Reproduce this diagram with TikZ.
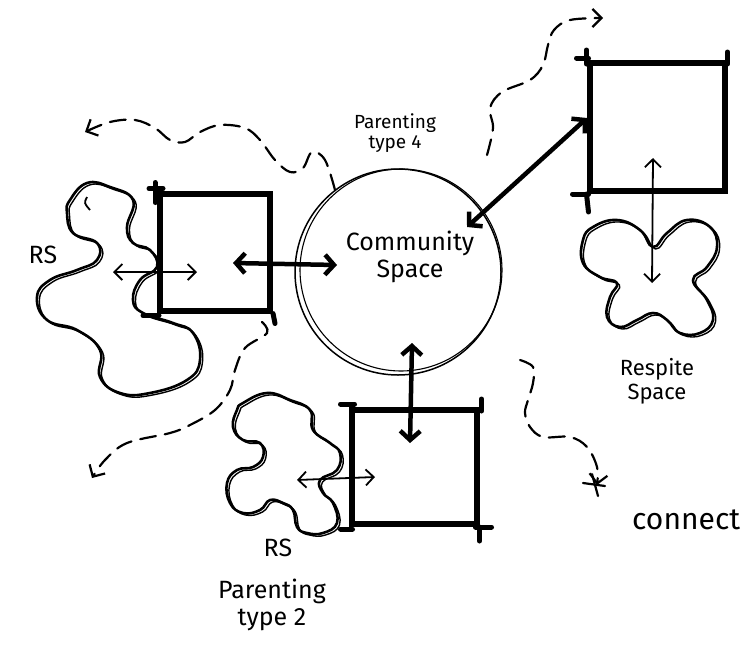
\documentclass[tikz,border=0pt]{standalone}
\usepackage{fontspec}
\setmainfont{Fira Sans}
\usetikzlibrary{arrows.meta}
\begin{document}
\begin{tikzpicture}[x=1pt,y=-1pt,
  roombox/.style={draw, line width=6pt, minimum width=#1, inner sep=0pt},
  thickarrow/.style={line width=4.5pt, {Straight Barb[length=9pt,width=20pt]}-{Straight Barb[length=9pt,width=20pt]}},
  thinarrow/.style={line width=1.8pt, {Straight Barb[length=8pt,width=16pt]}-{Straight Barb[length=8pt,width=16pt]}},
  cloudline/.style={line width=2.6pt, line join=round},
  cloudline2/.style={line width=1.4pt, line join=round},
  flowline/.style={line width=2.2pt, line cap=round, dash pattern=on 16pt off 9pt, -{Straight Barb[length=9pt,width=18pt]}},
  overshoot/.style={line width=5pt, line cap=round},
  lbl/.style 2 args={font=\fontsize{#1}{#2}\selectfont, align=center, inner sep=0pt}
]
\useasboundingbox (0,0) rectangle (743,648);
\clip (0,0) rectangle (743,648);

% community circle
\node[draw, circle, line width=1.5pt, minimum size=206pt, inner sep=0pt] (cs) at (398,272) {};
\draw[line width=1.1pt] (401,270) circle (101);

% boxes
\node[roombox=110pt, minimum height=117pt] (lbox) at (215,252) {};
\node[roombox=135pt, minimum height=128pt] (rbox) at (657,127) {};
\node[roombox=125pt, minimum height=114pt] (bbox) at (414,467) {};

% box overshoots
\draw[overshoot] (lbox.north west) ++(-8,-2) -- ++(14,0);
\draw[overshoot] (lbox.north west) ++(-2,-8) -- ++(0,20);
\draw[overshoot] (lbox.south west) ++(-14,2) -- ++(16,0);
\draw[overshoot] (lbox.south east) ++(0,0) -- ++(2,10);
\draw[overshoot] (rbox.north west) ++(-10,-2) -- ++(12,0);
\draw[overshoot] (rbox.north west) ++(0,-10) -- ++(0,14);
\draw[overshoot] (rbox.north east) ++(0,-8) -- ++(0,12);
\draw[overshoot] (rbox.south west) ++(-14,0) -- ++(16,0);
\draw[overshoot] (rbox.south west) ++(0,0) -- ++(2,18);
\draw[overshoot] (bbox.north west) ++(-8,-3) -- ++(14,0);
\draw[overshoot] (bbox.north east) ++(2,-8) -- ++(0,12);
\draw[overshoot] (bbox.south east) ++(-4,0) -- ++(16,0);
\draw[overshoot] (bbox.south east) ++(0,0) -- ++(0,14);
\draw[overshoot] (bbox.south west) ++(-8,2) -- ++(12,0);

% clouds
\foreach \dx/\dy/\st in {0/0/cloudline, 2.5/2/cloudline2}{
  \draw[\st, shift={(\dx,\dy)}] plot[smooth cycle, tension=0.75] coordinates {
    (70,200) (87,183) (110,187) (133,200) (127,227) (133,243) (150,250) (157,267)
    (140,280) (133,300) (143,313) (173,323) (193,333) (200,360) (187,380) (150,393)
    (120,393) (100,377) (100,350) (77,330) (47,320) (37,297) (50,280) (77,270)
    (97,260) (97,243) (73,233) (67,213)};
  \draw[\st, shift={(\dx,\dy)}] plot[smooth cycle, tension=0.75] coordinates {
    (593,227) (617,220) (640,230) (653,247) (667,233) (687,220) (710,227) (717,247)
    (707,267) (693,280) (707,300) (713,320) (700,333) (680,333) (667,320) (653,313)
    (637,320) (620,327) (607,317) (610,297) (617,283) (600,277) (583,263) (583,240)};
  \draw[\st, shift={(\dx,\dy)}] plot[smooth cycle, tension=0.75] coordinates {
    (243,403) (267,393) (290,400) (310,410) (313,430) (330,443) (340,453) (337,470)
    (320,480) (323,493) (333,503) (337,523) (323,533) (307,533) (297,527) (293,510)
    (283,503) (270,500) (260,510) (243,513) (230,503) (227,483) (237,470) (253,467)
    (263,457) (260,443) (243,440) (233,427) (237,410)};
}
\draw[line width=1.8pt] (87,197) .. controls (84,203) .. (90,210);

% arrow end points
\coordinate (lbin) at (233,263);
\coordinate (csw) at (337,265);
\coordinate (lcloud) at (113,272);
\coordinate (lboxin) at (197,272);
\coordinate (csne) at (467,227);
\coordinate (rbin) at (587,118);
\coordinate (rbin2) at (653,158);
\coordinate (rcloud) at (652,283);
\coordinate (css) at (412,343);
\coordinate (bbin) at (410,443);
\coordinate (bcloud) at (297,480);
\coordinate (bbin2) at (375,477);

\draw[thickarrow] (lbin) -- (csw);
\draw[thickarrow] (csne) -- (rbin);
\draw[thickarrow] (css) -- (bbin);
\draw[thinarrow] (lcloud) -- (lboxin);
\draw[thinarrow] (rbin2) -- (rcloud);
\draw[thinarrow] (bcloud) -- (bbin2);

% flows
\draw[flowline] plot[smooth, tension=0.6] coordinates {
  (335,190) (325,160) (312,152) (303,168) (290,172) (275,160) (260,140) (245,128)
  (220,125) (200,132) (185,142) (170,140) (155,128) (135,120) (110,122) (85,132)};
\draw[flowline] plot[smooth, tension=0.6] coordinates {
  (487,155) (493,128) (490,108) (502,92) (530,80) (543,65) (548,45) (554,30) (570,20) (603,18)};
\draw[flowline] plot[smooth, tension=0.6] coordinates {
  (262,322) (267,333) (245,348) (235,370) (230,390) (215,410) (190,425) (170,433)
  (127,443) (105,460) (92,478)};
\draw[flowline] plot[smooth, tension=0.6] coordinates {
  (520,360) (533,367) (533,383) (528,400) (525,413) (530,427) (543,437) (570,437)
  (587,447) (597,467) (597,485)};
\draw[line width=2.2pt, line cap=round] (583,483) -- (605,486) (592,474) -- (598,496);

% labels
\node[lbl={19}{20}] (t4) at (395,133) {Parenting\\type 4};
\node[lbl={25}{27}] (cst) at (410,257) {Community\\Space};
\node[lbl={25}{27}] (rs1) at (43,255) {RS};
\node[lbl={22}{24}] (resp) at (657,381) {Respite\\Space};
\node[lbl={25}{27}] (rs2) at (278,548) {RS};
\node[lbl={25}{27}] (t2) at (272,605) {Parenting\\type 2};
\node[lbl={30}{32}, anchor=west] (conn) at (632,520) {connect};
\end{tikzpicture}
\end{document}
